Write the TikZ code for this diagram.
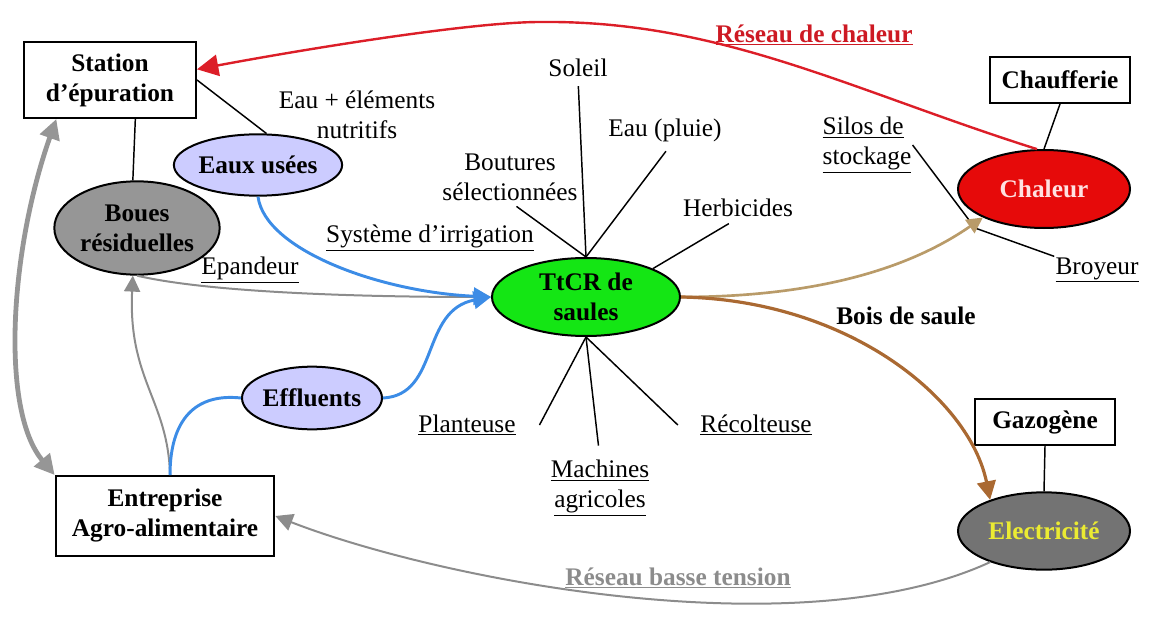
\documentclass[tikz,border=0pt]{standalone}
\usepackage{fontspec}
\setmainfont{Liberation Serif}
\usetikzlibrary{arrows.meta,shapes.geometric}
\newcommand{\lien}[1]{\underline{#1}}

\begin{document}
\begin{tikzpicture}[x=0.75pt,y=0.75pt,yscale=-1,
  txt/.style={inner sep=0.75pt, align=center, font=\fontsize{19}{22.5}\selectfont},
  boite/.style={txt, draw, line width=1.5pt, inner sep=0pt, font=\fontsize{19}{22.5}\selectfont\bfseries},
  ell/.style={boite, ellipse},
  trait/.style={line width=1.1pt},
  fleche/.style={-{Triangle[length=#1,width=#1]}},
  bleu/.style={color={rgb, 255:red, 60; green, 140; blue, 230 }, line width=2.2pt},
  gris/.style={color={rgb, 255:red, 140; green, 140; blue, 140 }, line width=1.5pt}
]
\useasboundingbox (0,0) rectangle (1166,631);

%Shape: Rectangle
\draw (110,80) node (station) [boite, minimum width=129pt, minimum height=57pt] {Station\\d'épuration};
%Shape: Rectangle
\draw (1060,80) node (chauff) [boite, minimum width=105pt, minimum height=34.5pt] {Chaufferie};
%Shape: Rectangle
\draw (1045,422) node (gaz) [boite, minimum width=105pt, minimum height=34.5pt] {Gazogène};
%Shape: Rectangle
\draw (165,516) node (entreprise) [boite, minimum width=164pt, minimum height=60pt] {Entreprise\\Agro-alimentaire};

%Shape: Ellipse
\draw (258,165) node (eaux) [ell, fill={rgb, 255:red, 204; green, 204; blue, 255 }, minimum width=118pt, minimum height=46pt] {Eaux usées};
%Shape: Ellipse
\draw (137,228) node (boues) [ell, fill={rgb, 255:red, 150; green, 150; blue, 150 }, minimum width=124pt, minimum height=70pt] {Boues\\résiduelles};
%Shape: Ellipse
\draw (586,297) node (ttcr) [ell, fill={rgb, 255:red, 20; green, 230; blue, 20 }, minimum width=141pt, minimum height=58.5pt] {TtCR de\\saules};
%Shape: Ellipse
\draw (1044,189) node (chaleur) [ell, fill={rgb, 255:red, 230; green, 10; blue, 10 }, text={rgb, 255:red, 255; green, 225; blue, 225 }, minimum width=129pt, minimum height=58.5pt] {Chaleur};
%Shape: Ellipse
\draw (312,398) node (effluents) [ell, fill={rgb, 255:red, 204; green, 204; blue, 255 }, minimum width=105pt, minimum height=47pt] {Effluents};
%Shape: Ellipse
\draw (1044,531) node (elec) [ell, fill={rgb, 255:red, 115; green, 115; blue, 115 }, text={rgb, 255:red, 235; green, 235; blue, 50 }, minimum width=129pt, minimum height=58pt] {Electricité};

% Text Node
\draw (357,115) node (nutritifs) [txt] {Eau + éléments\\nutritifs};
% Text Node
\draw (578,68) node (soleil) [txt] {Soleil};
% Text Node
\draw (665,130) node (pluie) [txt] {Eau (pluie)};
% Text Node
\draw (510,177) node (boutures) [txt] {Boutures\\sélectionnées};
% Text Node
\draw (738,208) node (herb) [txt] {Herbicides};
% Text Node
\draw (430,238) node (irrigation) [txt] {\lien{Système d'irrigation}};
% Text Node
\draw (250,270) node (epandeur) [txt] {\lien{Epandeur}};
% Text Node
\draw (867,145) node (silos) [txt, align=left] {\lien{Silos de}\\\lien{stockage}};
% Text Node
\draw (1097,270) node (broyeur) [txt] {\lien{Broyeur}};
% Text Node
\draw (906,316) node (bois) [txt, font=\fontsize{19}{22.5}\selectfont\bfseries] {Bois de saule};
% Text Node
\draw (814,35) node (rchaleur) [txt, font=\fontsize{19}{22.5}\selectfont\bfseries, color={rgb, 255:red, 205; green, 25; blue, 35 }] {\lien{Réseau de chaleur}};
% Text Node
\draw (467,425) node (planteuse) [txt] {\lien{Planteuse}};
% Text Node
\draw (600,488) node (machines) [txt] {\lien{Machines}\\\lien{agricoles}};
% Text Node
\draw (756,425) node (recolt) [txt] {\lien{Récolteuse}};
% Text Node
\draw (678,578) node (basse) [txt, font=\fontsize{19}{22.5}\selectfont\bfseries, color={rgb, 255:red, 140; green, 140; blue, 140 }] {\lien{Réseau basse tension}};

%Straight Lines
\draw [trait] (station.east) -- (eaux.75) ;
\draw [trait] (station.-57) -- (boues.95) ;
\draw [trait] (chauff.south) -- (chaleur.north) ;
\draw [trait] (gaz.south) -- (elec.north) ;
\draw [trait, shorten <=6pt] (soleil.south) -- (ttcr.north) ;
\draw [trait, shorten <=8pt] (pluie.-60) -- (ttcr.north) ;
\draw [trait, shorten <=6pt] (boutures.south) -- (ttcr.north) ;
\draw [trait, shorten <=8pt] (herb.south) -- (ttcr.23) ;
\draw [trait] ([xshift=17pt]planteuse.east) -- (ttcr.south) ;
\draw [trait, shorten <=10pt] (machines.north) -- (ttcr.south) ;
\draw [trait] ([xshift=-16pt]recolt.west) -- (ttcr.south) ;
\draw [trait] (silos.east) -- (975,228) -- (broyeur.north west) ;

%Curve Lines
\draw [color={rgb, 255:red, 220; green, 30; blue, 40 }, line width=1.8pt, fleche=16pt] (chaleur.100) .. controls (850,90) and (720,20) .. (540,22) .. controls (470,22) and (300,50) .. (station.7) ;
\draw [color={rgb, 255:red, 150; green, 150; blue, 150 }, line width=3.6pt, {Triangle[length=15pt,width=15pt]}-{Triangle[length=15pt,width=15pt]}] (station.216) .. controls (10,250) and (0,410) .. (entreprise.north west) ;
\draw [gris, fleche=12pt] (entreprise.83) .. controls (168,400) and (128,380) .. (boues.265) ;
\draw [gris, fleche=12pt] (boues.south) .. controls (220,295) and (400,297) .. (ttcr.west) ;
\draw [bleu, fleche=13pt] (eaux.south) .. controls (265,250) and (380,292) .. (ttcr.west) ;
\draw [bleu] (entreprise.83) .. controls (170,420) and (195,393) .. (effluents.west) ;
\draw [bleu, fleche=13pt] (effluents.east) .. controls (440,395) and (420,310) .. (ttcr.west) ;
\draw [color={rgb, 255:red, 185; green, 155; blue, 105 }, line width=2pt, fleche=12pt] (ttcr.east) .. controls (800,297) and (900,275) .. (chaleur.205) ;
\draw [color={rgb, 255:red, 170; green, 105; blue, 50 }, line width=2.4pt, fleche=14pt] (ttcr.east) .. controls (850,300) and (970,400) .. (elec.150) ;
\draw [gris, fleche=13pt] (elec.210) .. controls (800,650) and (440,580) .. (entreprise.east) ;

\end{tikzpicture}
\end{document}
